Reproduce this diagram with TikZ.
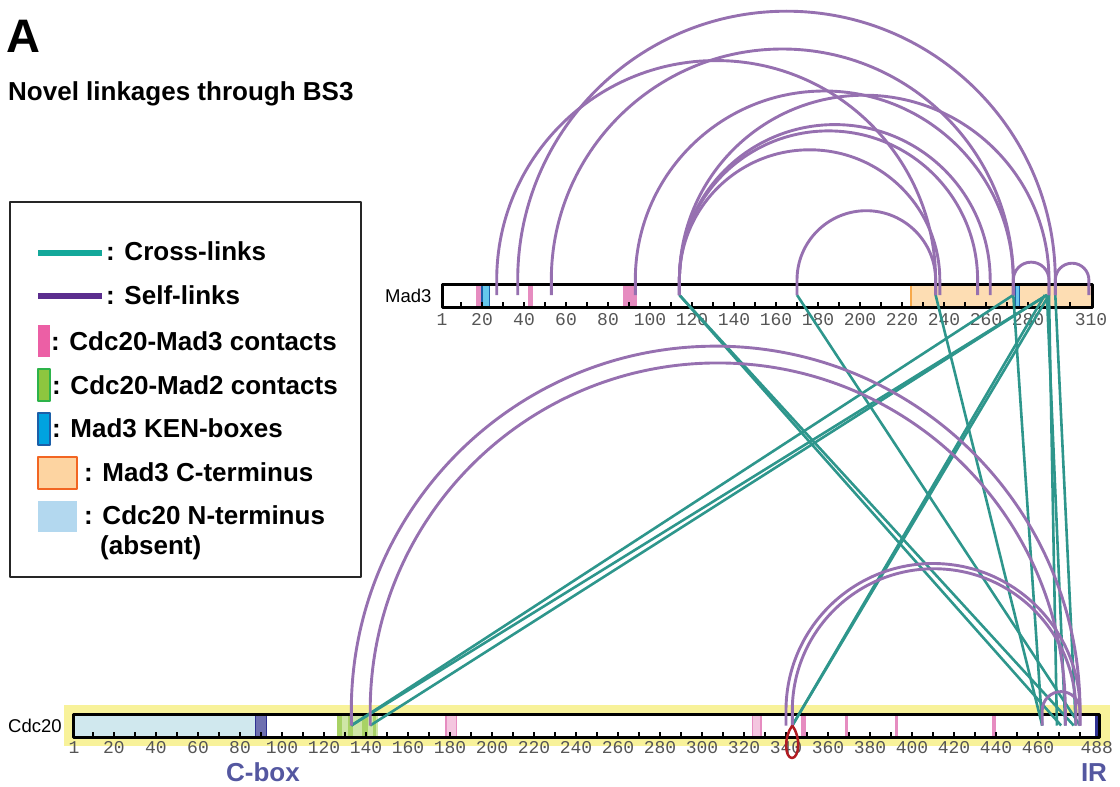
\documentclass[tikz,border=0pt]{standalone}
\usepackage{fontspec}
\setmainfont{Liberation Sans}
\newfontfamily\tickfont{Liberation Mono}
\usepackage{xcolor}

\definecolor{selfpurple}{HTML}{9670B0}
\definecolor{crossteal}{HTML}{2E968C}
\definecolor{legteal}{HTML}{14A89A}
\definecolor{legpurple}{HTML}{5B2D8E}
\definecolor{contactpink}{HTML}{E68CC0}
\definecolor{legpink}{HTML}{EC5FA5}
\definecolor{lightpink}{HTML}{F4C6DF}
\definecolor{mtwogreen}{HTML}{8DC63F}
\definecolor{mtwoedge}{HTML}{2DB34A}
\definecolor{paleg}{HTML}{CFE6A6}
\definecolor{midg}{HTML}{A8D264}
\definecolor{kenblue}{HTML}{00A3E0}
\definecolor{kenedge}{HTML}{1C5FA8}
\definecolor{cterm}{HTML}{FDDDB3}
\definecolor{ctermedge}{HTML}{F26522}
\definecolor{ctermline}{HTML}{F7A84A}
\definecolor{ntermleg}{HTML}{B3D8EF}
\definecolor{nterm}{HTML}{D0E8EE}
\definecolor{cboxfill}{HTML}{6E70B0}
\definecolor{cboxedge}{HTML}{2E3192}
\definecolor{hilite}{HTML}{F8F29A}
\definecolor{motiftext}{HTML}{5457A0}
\definecolor{loopred}{HTML}{B01C22}
\definecolor{ticktext}{HTML}{555555}

\begin{document}
\begin{tikzpicture}[x=1pt, y=-1pt, line join=round,
  xlink/.style={crossteal, line width=2.6pt},
  slink/.style={selfpurple, line width=2.9pt},
  barline/.style={black, line width=3pt},
  tickmark/.style={black, line width=2pt},
  ticklab/.style={anchor=base, inner sep=0, text=ticktext, font=\tickfont\fontsize{18}{20}\selectfont},
  legtext/.style={anchor=base west, inner sep=0, font=\bfseries\fontsize{26}{30}\selectfont},
  protname/.style={anchor=base west, inner sep=0, font=\fontsize{18.5}{20}\selectfont}]
\useasboundingbox (0,0) rectangle (1120,787);

\node[anchor=base west, inner sep=0, font=\bfseries\fontsize{47}{50}\selectfont] (panel) at (6,52) {A};
\node[legtext] (title) at (8,100) {Novel linkages through BS3};

\draw[line width=1.5pt, black!85] (10,202) rectangle (361,577);
\fill[legteal] (38,249.5) rectangle (102,255.5);
\fill[legpurple] (38,292.5) rectangle (102,298.5);
\fill[legpink] (38,325) rectangle (50,357);
\filldraw[fill=mtwogreen, draw=mtwoedge, line width=1.5pt] (38,369) rectangle (50,401);
\filldraw[fill=kenblue, draw=kenedge, line width=1.5pt] (38,413) rectangle (50,445);
\filldraw[fill=cterm!90!orange, draw=ctermedge, line width=2pt] (38,457) rectangle (77,489);
\fill[ntermleg] (38,501) rectangle (77,532);
\node[legtext] (legcross) at (106,260) {: Cross-links};
\node[legtext] (legself) at (106,304) {: Self-links};
\node[legtext] (legmad3) at (51,350) {: Cdc20-Mad3 contacts};
\node[legtext] (legmad2) at (52,394) {: Cdc20-Mad2 contacts};
\node[legtext] (legken) at (52,437.5) {: Mad3 KEN-boxes};
\node[legtext] (legcterm) at (84,481) {: Mad3 C-terminus};
\node[legtext] (legnterm) at (84,524) {: Cdc20 N-terminus};
\node[legtext] (legabsent) at (100,554) {(absent)};

\node[protname] (mad3name) at (385,302) {Mad3};
\fill[white] (442,284) rectangle (1092,307);
\fill[cterm] (910,284) rectangle (1092,307);
\draw[ctermline, line width=2pt] (911,284) -- (911,307);
\foreach \a/\b in {17/19.5, 42/44.5, 87/94}
  \fill[contactpink] ({440+2.1*\a},284) rectangle ({440+2.1*\b},307);
\foreach \a/\b in {20/23.5, 274/276}
  \filldraw[fill=kenblue!60, draw=kenedge, line width=1.2pt] ({440+2.1*\a},284) rectangle ({440+2.1*\b},307);
\foreach \t in {10,20,...,300}
  \draw[tickmark] ({440+2.1*\t},307) -- ++(0,-5);
\draw[barline] (442,284) rectangle (1092,307);
\node[ticklab] (mt1) at (442,325) {1};
\foreach \t in {20,40,...,280}
  \node[ticklab] (mt\t) at ({440+2.1*\t},325) {\t};
\node[ticklab] (mt310) at ({440+2.1*310},325) {310};

\node[protname] (cdcname) at (8,732.5) {Cdc20};
\fill[hilite] (64,705) rectangle (1110,746);
\fill[white] (73,714) rectangle (1099,737);
\fill[nterm] (74,714) rectangle (255,737);
\filldraw[fill=cboxfill, draw=cboxedge, line width=1.5pt] (255.5,714) rectangle (266.5,737);
\fill[paleg] (337,714) rectangle (378,737);
\foreach \a/\b in {337/342, 348/353, 362/368, 373/376}
  \fill[midg] (\a,714) rectangle (\b,737);
\foreach \a/\b in {178/183, 324/328}
  \filldraw[fill=lightpink, draw=contactpink, line width=1.5pt] ({72+2.1*\a},714) rectangle ({72+2.1*\b},737);
\foreach \a/\b in {347/349.5, 368/369.5, 392/393.5, 438/440}
  \fill[contactpink] ({72+2.1*\a},714) rectangle ({72+2.1*\b},737);
\fill[cboxedge] (1094.5,714) rectangle (1099,737);
\foreach \t in {10,20,...,480}
  \draw[tickmark] ({72+2.1*\t},737) -- ++(0,-5);
\draw[barline] (73,714) rectangle (1099,737);
\node[ticklab] (ct1) at (74,753) {1};
\foreach \t in {20,40,...,460}
  \node[ticklab] (ct\t) at ({72+2.1*\t},753) {\t};
\node[ticklab] (ct488) at ({72+2.1*488},753) {488};
\node[legtext, anchor=base, text=motiftext] (cbox) at (263,781) {C-box};
\node[legtext, anchor=base, text=motiftext] (ir) at (1094,781) {IR};

\foreach \r in {27,37,53,93,114,170,236,238,256,262,273,288,289,290,293,309}
  \coordinate (m\r) at ({440+2.1*\r},295);
\foreach \r in {133,142,340,343,462,469,471,473,477,478,480}
  \coordinate (c\r) at ({72+2.1*\r},725.5);

\foreach \a/\b in {114/471, 114/477, 170/480, 236/462, 273/133, 273/462,
                   289/133, 289/142, 288/343, 290/343, 289/473, 290/469, 293/478}
  \draw[xlink] (m\a) -- (c\b);

\foreach \a/\b in {27/236, 37/293, 53/273, 93/273, 114/290, 114/262, 114/256,
                   114/238, 170/236, 273/290, 293/309}
  \draw[slink] (m\a) -- ++(0,-15) arc[start angle=180, end angle=360, radius={1.05*(\b-\a)}] -- (m\b);

\foreach \a/\b in {133/480, 142/473, 340/480, 343/478, 462/480}
  \draw[slink] (c\a) -- ++(0,-15) arc[start angle=180, end angle=360, radius={1.05*(\b-\a)}] -- (c\b);

\coordinate (loopbot) at (792,758);
\draw[loopred, line width=2.5pt] (c343) .. controls +(-9,12) and +(-7,0) .. (loopbot)
  .. controls +(7,0) and +(9,12) .. (c343);
\end{tikzpicture}
\end{document}
